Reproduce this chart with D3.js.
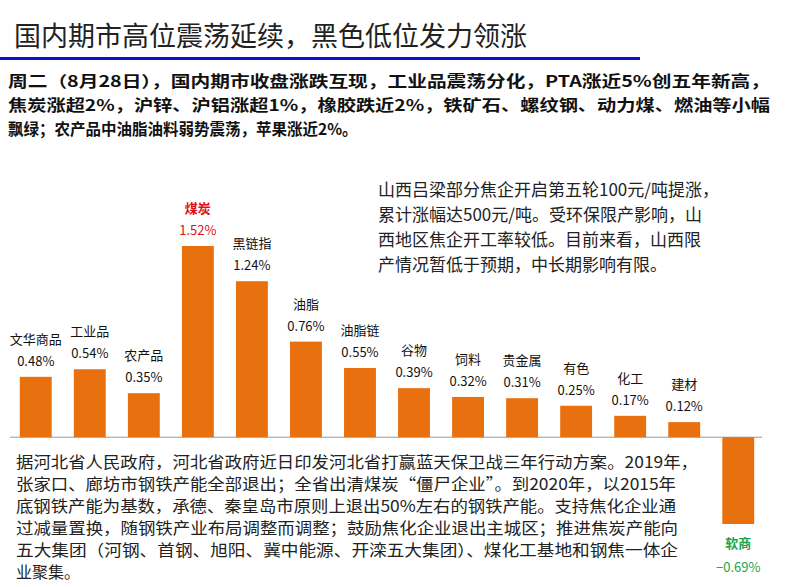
<!DOCTYPE html>
<html><head><meta charset="utf-8">
<script src="https://cdn.jsdelivr.net/npm/d3@7"></script>
<style>body{margin:0;background:#fff;font-family:"Noto Sans CJK SC",sans-serif}</style>
</head><body><div id="chart"></div>
<script>
var categories = ["文华商品","工业品","农产品","煤炭","黑链指","油脂","油脂链","谷物","饲料","贵金属","有色","化工","建材","软商"];
var changes = [0.48,0.54,0.35,1.52,1.24,0.76,0.55,0.39,0.32,0.31,0.25,0.17,0.12,-0.69];
var title = "国内期市高位震荡延续，黑色低位发力领涨";
var summary = ["周二（8月28日），国内期市收盘涨跌互现，工业品震荡分化，PTA涨近5%创五年新高，",
  "焦炭涨超2%，沪锌、沪铝涨超1%，橡胶跌近2%，铁矿石、螺纹钢、动力煤、燃油等小幅",
  "飘绿；农产品中油脂油料弱势震荡，苹果涨近2%。"];
var note = ["山西吕梁部分焦企开启第五轮100元/吨提涨，","累计涨幅达500元/吨。受环保限产影响，山",
  "西地区焦企开工率较低。目前来看，山西限","产情况暂低于预期，中长期影响有限。"];
var policy = ["据河北省人民政府，河北省政府近日印发河北省打赢蓝天保卫战三年行动方案。2019年，",
  "张家口、廊坊市钢铁产能全部退出；全省出清煤炭“僵尸企业”。到2020年，以2015年",
  "底钢铁产能为基数，承德、秦皇岛市原则上退出50%左右的钢铁产能。支持焦化企业通",
  "过减量置换，随钢铁产业布局调整而调整；鼓励焦化企业退出主城区；推进焦炭产能向",
  "五大集团（河钢、首钢、旭阳、冀中能源、开滦五大集团）、煤化工基地和钢焦一体企",
  "业聚集。"];

var svg = d3.select("#chart").append("svg").attr("width",790).attr("height",587);

svg.append("text").attr("x",14).attr("y",46).attr("font-size",27).attr("fill","#222").text(title);
svg.append("rect").attr("x",0).attr("y",57).attr("width",640).attr("height",3).attr("fill","#1010d0");
summary.forEach(function(t,i){
  var s = svg.append("text").attr("x",8).attr("y",87+i*24).attr("font-size",15.5).attr("font-weight","bold")
    .attr("font-family","'Noto Sans CJK SC',serif").attr("fill","#111").text(t);
  if (i < 2) s.attr("textLength",762).attr("lengthAdjust","spacingAndGlyphs");
});

var x = d3.scaleBand().domain(categories).range([9,765]).paddingInner(0.41).paddingOuter(0.2);
var y = d3.scaleLinear().domain([-0.69,1.52]).range([524,246]);

svg.append("line").attr("x1",10).attr("x2",762).attr("y1",y(0)).attr("y2",y(0)).attr("stroke","#999");

var data = categories.map(function(c,i){return {name:c,v:changes[i]};});
svg.selectAll("rect.bar").data(data).enter().append("rect").attr("class","bar")
  .attr("x",d=>x(d.name)).attr("width",x.bandwidth())
  .attr("y",d=>y(Math.max(0,d.v))).attr("height",d=>Math.abs(y(d.v)-y(0)))
  .attr("fill","#e8700e");

function col(d){return d.name==="煤炭"?"#e01010":(d.v<0?"#19a34a":"#111");}
var g = svg.selectAll("g.lab").data(data).enter().append("g");
g.append("text").attr("text-anchor","middle").attr("font-size",13)
  .attr("x",d=>x(d.name)+x.bandwidth()/2)
  .attr("y",d=>d.v>=0?y(d.v)-33:y(d.v)+24).attr("fill",col)
  .attr("font-weight",d=>(d.v<0||d.name==="煤炭")?"bold":"normal").text(d=>d.name);
g.append("text").attr("text-anchor","middle").attr("font-size",13)
  .attr("x",d=>x(d.name)+x.bandwidth()/2)
  .attr("y",d=>d.v>=0?y(d.v)-11:y(d.v)+48).attr("fill",col)
  .text(d=>d3.format(".2f")(d.v)+"%");

note.forEach(function(t,i){
  svg.append("text").attr("x",378).attr("y",196+i*25).attr("font-size",17).attr("fill","#222").text(t);
});
policy.forEach(function(t,i){
  var s = svg.append("text").attr("x",16).attr("y",468+i*22).attr("font-size",16).attr("fill","#222")
    .attr("font-family","'Noto Sans CJK SC',serif").text(t);
  if (i < 5) s.attr("textLength",[682,660,660,662,662][i]).attr("lengthAdjust","spacingAndGlyphs");
});
</script></body></html>
